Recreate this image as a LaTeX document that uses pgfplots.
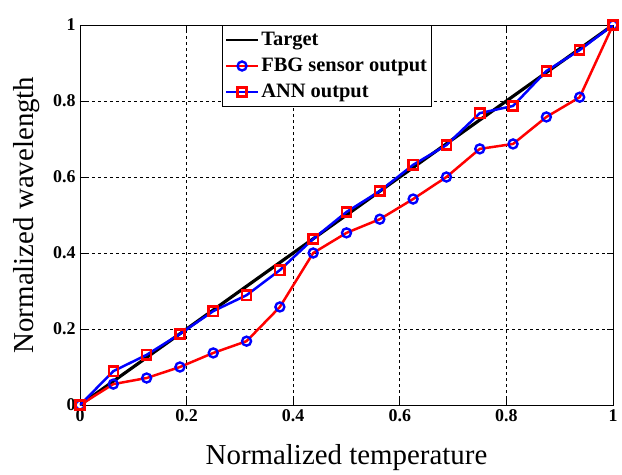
\documentclass[border=0pt]{standalone}
\usepackage{fontspec}
\setmainfont{Liberation Serif}
\usepackage{pgfplots}
\pgfplotsset{compat=1.18}
\begin{document}
\begin{tikzpicture}[x=1bp,y=1bp]
\begin{axis}[
  scale only axis,
  width=533bp, height=380bp,
  xmin=0, xmax=1, ymin=0, ymax=1,
  xtick={0,0.2,0.4,0.6,0.8,1},
  ytick={0,0.2,0.4,0.6,0.8,1},
  xticklabels={0,0.2,0.4,0.6,0.8,1},
  yticklabels={0,0.2,0.4,0.6,0.8,1},
  tick align=inside,
  xtick pos=both, ytick pos=both,
  major tick length=6bp,
  tick style={black, line width=0.7pt},
  grid=major,
  major grid style={black, dash pattern=on 3bp off 3bp, line width=0.8pt},
  axis line style={black, line width=1pt},
  tick label style={font=\fontsize{18}{20}\selectfont\bfseries},
  xticklabel style={yshift=-1bp},
  yticklabel style={xshift=-1bp},
  xlabel={Normalized temperature},
  ylabel={Normalized wavelength},
  label style={font=\fontsize{29}{31}\selectfont},
  xlabel style={at={(axis description cs:0.5,-0.1395)}, anchor=center},
  ylabel style={at={(axis description cs:-0.0994,0.5)}, anchor=center},
  legend style={at={(rel axis cs:0.266,1)}, anchor=north west,
    font=\fontsize{20.5}{23}\selectfont\bfseries, draw=black, line width=1pt,
    row sep=2bp, inner sep=2.5bp,
    nodes={inner ysep=1.5bp, text depth=5bp, text height=16bp}},
  legend cell align=left,
  legend image post style={line width=2.6pt},
  legend image code/.code={%
    \draw[mark repeat=2,mark phase=2,#1] plot coordinates {(0bp,0bp) (16bp,0bp) (32bp,0bp)};},
]
\addplot[black, line width=3.2pt] coordinates {
(0,0) (0.0625,0.0625) (0.125,0.125) (0.1875,0.1875) (0.25,0.25) (0.3125,0.3125)
(0.375,0.375) (0.4375,0.4375) (0.5,0.5) (0.5625,0.5625) (0.625,0.625) (0.6875,0.6875)
(0.75,0.75) (0.8125,0.8125) (0.875,0.875) (0.9375,0.9375) (1,1)};
\addlegendentry{Target}
\addplot[red, line width=2.5pt, mark=o, mark size=4.5bp,
  mark options={blue, line width=2.4pt, solid}] coordinates {
(0,0) (0.0625,0.055) (0.125,0.071) (0.1875,0.100) (0.25,0.137) (0.3125,0.168)
(0.375,0.258) (0.4375,0.400) (0.5,0.453) (0.5625,0.489) (0.625,0.542) (0.6875,0.600)
(0.75,0.674) (0.8125,0.687) (0.875,0.758) (0.9375,0.810) (1,1)};
\addlegendentry{FBG sensor output}
\addplot[blue, line width=2.5pt, mark=square, mark size=4.6bp,
  mark options={red, line width=2.4pt, solid}] coordinates {
(0,0) (0.0625,0.089) (0.125,0.132) (0.1875,0.187) (0.25,0.247) (0.3125,0.289)
(0.375,0.355) (0.4375,0.437) (0.5,0.508) (0.5625,0.563) (0.625,0.632) (0.6875,0.684)
(0.75,0.768) (0.8125,0.787) (0.875,0.879) (0.9375,0.934) (1,1)};
\addlegendentry{ANN output}
\end{axis}
\path ([xshift=-80bp,yshift=-68bp]current axis.south west) rectangle ([xshift=9bp,yshift=25bp]current axis.north east);
\end{tikzpicture}
\end{document}
